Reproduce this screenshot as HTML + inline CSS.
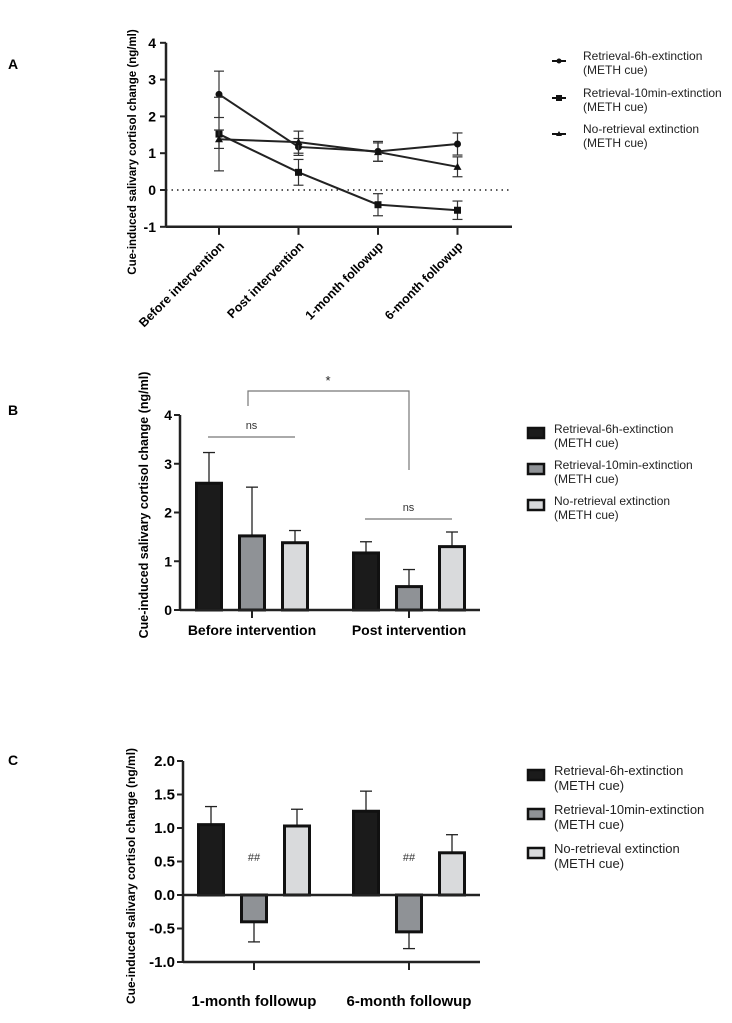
<!DOCTYPE html>
<html><head><meta charset="utf-8"><style>
body{margin:0;background:#fff;width:732px;height:1018px;overflow:hidden}
svg text{font-family:"Liberation Sans",Arial,sans-serif}
</style></head><body>
<svg id="s" width="732" height="1018" viewBox="0 0 732 1018">
<g id="A"></g>
<g id="B"></g>
<g id="C"></g>
</svg>
<script>
const NS="http://www.w3.org/2000/svg";
// Panel A data
const aCategories=["Before intervention","Post intervention","1-month followup","6-month followup"];
const aSeriesNames=["Retrieval-6h-extinction","Retrieval-10min-extinction","No-retrieval extinction"];
const aMean6h=[2.6,1.17,1.05,1.25];
const aErr6h=[0.63,0.23,0.27,0.3];
const aMean10=[1.52,0.48,-0.4,-0.55];
const aErr10=[1.0,0.35,0.3,0.25];
const aMeanNo=[1.38,1.3,1.03,0.63];
const aErrNo=[0.25,0.3,0.25,0.27];
const aTicks=[-1,0,1,2,3,4];
// Panel B data
const bCategories=["Before intervention","Post intervention"];
const bMean6h=[2.6,1.17];
const bErr6h=[0.63,0.23];
const bMean10=[1.52,0.48];
const bErr10=[1.0,0.35];
const bMeanNo=[1.38,1.3];
const bErrNo=[0.25,0.3];
const bTicks=[0,1,2,3,4];
// Panel C data
const cCategories=["1-month followup","6-month followup"];
const cMean6h=[1.05,1.25];
const cErr6h=[0.27,0.3];
const cMean10=[-0.4,-0.55];
const cErr10=[0.3,0.25];
const cMeanNo=[1.03,0.63];
const cErrNo=[0.25,0.27];
const cTicks=["-1.0","-0.5","0.0","0.5","1.0","1.5","2.0"];

function el(p,t,a,txt){const e=document.createElementNS(NS,t);for(const k in a)e.setAttribute(k,a[k]);if(txt!==undefined)e.textContent=txt;p.appendChild(e);return e;}
const colors=["#1b1b1b","#8f9296","#d9dadc"];
const yTitle="Cue-induced salivary cortisol change (ng/ml)";

// ---------- Panel A ----------
(function(){
const g=document.getElementById('A');
const y=v=>190-v*36.8;
const x=i=>219+i*79.5;
let t=el(g,'text',{x:8,y:69,'font-size':14,'font-weight':'bold'},'A');


t=el(g,'text',{x:0,y:0,'font-size':11.5,'font-weight':'bold','text-anchor':'middle',transform:'translate(136,152) rotate(-90)'},yTitle);


el(g,'line',{x1:166,y1:y(4),x2:166,y2:y(-1),stroke:'#222','stroke-width':2.5});
el(g,'line',{x1:166,y1:y(-1),x2:512,y2:y(-1),stroke:'#222','stroke-width':2.5});
el(g,'line',{x1:166,y1:y(0),x2:512,y2:y(0),stroke:'#222','stroke-width':1.5,'stroke-dasharray':'1.5 4'});
aTicks.forEach(v=>{el(g,'line',{x1:160,y1:y(v),x2:166,y2:y(v),stroke:'#222','stroke-width':2});
 const tt=el(g,'text',{x:156,y:y(v)+5,'font-size':14,'font-weight':'bold','text-anchor':'end'},v);
 
 });
aCategories.forEach((c,i)=>{el(g,'line',{x1:x(i),y1:y(-1),x2:x(i),y2:y(-1)+8,stroke:'#222','stroke-width':2});
 const tt=el(g,'text',{x:0,y:0,'font-size':12.5,'font-weight':'bold','text-anchor':'end',transform:`translate(${x(i)+6},${y(-1)+20}) rotate(-45)`},c);
 
 });
const series=[[aMean6h,aErr6h,'circle'],[aMean10,aErr10,'square'],[aMeanNo,aErrNo,'triangle']];
series.forEach(([m,e,mk],si)=>{
 const sg=el(g,'g',{});
 
 
 el(sg,'polyline',{points:m.map((v,i)=>x(i)+','+y(v)).join(' '),fill:'none',stroke:'#222','stroke-width':2});
 m.forEach((v,i)=>{const X=x(i);
  el(sg,'line',{x1:X,y1:y(v-e[i]),x2:X,y2:y(v+e[i]),stroke:'#333','stroke-width':1.2});
  [v-e[i],v+e[i]].forEach(w=>el(sg,'line',{x1:X-5,y1:y(w),x2:X+5,y2:y(w),stroke:'#333','stroke-width':1.2}));
  let p;
  if(mk==='circle')p=el(sg,'circle',{cx:X,cy:y(v),r:3.5,fill:'#111'});
  else if(mk==='square')p=el(sg,'rect',{x:X-3.5,y:y(v)-3.5,width:7,height:7,fill:'#111'});
  else p=el(sg,'polygon',{points:`${X},${y(v)-4} ${X-4},${y(v)+3} ${X+4},${y(v)+3}`,fill:'#111'});
  
  
 });
});
const ly=[61,98,134];
aSeriesNames.forEach((n,i)=>{const lg=el(g,'g',{});
 
 
 el(lg,'line',{x1:552,y1:ly[i],x2:566,y2:ly[i],stroke:'#111','stroke-width':2});
 if(i===0)el(lg,'circle',{cx:559,cy:ly[i],r:2.5,fill:'#111'});
 else if(i===1)el(lg,'rect',{x:556,y:ly[i]-3,width:6,height:6,fill:'#111'});
 else el(lg,'polygon',{points:`559,${ly[i]-3} 556,${ly[i]+2} 562,${ly[i]+2}`,fill:'#111'});
 el(lg,'text',{x:583,y:ly[i]-1,'font-size':12,fill:'#222'},n);
 el(lg,'text',{x:583,y:ly[i]+13,'font-size':12,fill:'#222'},'(METH cue)');
});
})();

function barPanel(id,label,labelY,cats,means,errs,yf,ticks,tickVals,axisX,axisTop,axisBot,zeroY,gx,xlabY,titleX,titleY,titleFs,legX,legY,legFs,fs){
 const g=document.getElementById(id);
 let t=el(g,'text',{x:8,y:labelY,'font-size':14,'font-weight':'bold'},label);
 
 
 t=el(g,'text',{x:0,y:0,'font-size':titleFs,'font-weight':'bold','text-anchor':'middle',transform:`translate(${titleX},${titleY}) rotate(-90)`},yTitle);
 
 
 el(g,'line',{x1:axisX,y1:axisTop,x2:axisX,y2:axisBot,stroke:'#222','stroke-width':2.5});
 ticks.forEach((lab,i)=>{const v=tickVals[i];el(g,'line',{x1:axisX-6,y1:yf(v),x2:axisX,y2:yf(v),stroke:'#222','stroke-width':2});
  const tt=el(g,'text',{x:axisX-8,y:yf(v)+5,'font-size':fs,'font-weight':'bold','text-anchor':'end'},lab);
  
  });
 cats.forEach((c,ci)=>{
  const cx=gx(ci);
  means.forEach((m,si)=>{const bx=cx-57+si*43;const v=m[ci],e=errs[si][ci];
   const top=Math.min(yf(v),zeroY),h=Math.abs(yf(v)-zeroY);
   const ew=v>=0?v+e:v-e;
   el(g,'line',{x1:bx+14,y1:yf(v),x2:bx+14,y2:yf(ew),stroke:'#222','stroke-width':1.3});
   el(g,'line',{x1:bx+8,y1:yf(ew),x2:bx+20,y2:yf(ew),stroke:'#222','stroke-width':1.3});
   const r=el(g,'rect',{x:bx+1.5,y:top,width:25,height:h,fill:colors[si],stroke:'#111','stroke-width':3});
   
   
  });
  el(g,'line',{x1:cx,y1:axisBot,x2:cx,y2:axisBot+8,stroke:'#222','stroke-width':2});
  const tt=el(g,'text',{x:cx,y:xlabY,'font-size':fs,'font-weight':'bold','text-anchor':'middle'},c);
  
  
 });
 el(g,'line',{x1:axisX,y1:zeroY,x2:480,y2:zeroY,stroke:'#222','stroke-width':2.5});
 aSeriesNames.forEach((n,i)=>{const lg=el(g,'g',{});
  
  
  const yy=legY+i*(legFs*3);
  el(lg,'rect',{x:legX,y:yy-5,width:16,height:10,fill:colors[i],stroke:'#111','stroke-width':2.5});
  el(lg,'text',{x:legX+26,y:yy,'font-size':legFs,fill:'#222'},n);
  el(lg,'text',{x:legX+26,y:yy+legFs+2,'font-size':legFs,fill:'#222'},'(METH cue)');
 });
 return g;
}

// ---------- Panel B ----------
(function(){
const yf=v=>610-v*48.75;
const gx=i=>252+i*157;
const g=barPanel('B','B',415,bCategories,[bMean6h,bMean10,bMeanNo],[bErr6h,bErr10,bErrNo],yf,bTicks.map(String),bTicks,180,yf(4),610,610,gx,635,148,505,12.5,528,433,12,14);
const br=(x1,x2,yy,txt,id)=>{const bg=el(g,'g',{});
 
 
 el(bg,'line',{x1,y1:yy,x2,y2:yy,stroke:'#777','stroke-width':1.2});
 el(bg,'text',{x:(x1+x2)/2,y:yy-8,'font-size':11,'text-anchor':'middle',fill:'#333'},txt);};
br(208,295,437,'ns','ns-bracket-before');
br(365,452,519,'ns','ns-bracket-post');
const sg=el(g,'g',{});


el(sg,'polyline',{points:'248,406 248,391 409,391 409,470',fill:'none',stroke:'#777','stroke-width':1.2});
el(sg,'text',{x:328,y:385,'font-size':13,'text-anchor':'middle',fill:'#222'},'*');
})();

// ---------- Panel C ----------
(function(){
const yf=v=>895-v*67;
const gx=i=>254+i*155;
const tv=cTicks.map(Number);
const g=barPanel('C','C',765,cCategories,[cMean6h,cMean10,cMeanNo],[cErr6h,cErr10,cErrNo],yf,cTicks,tv,183,yf(2),yf(-1),yf(0),gx,1006,135,876,12,528,775,13,15);
el(g,'line',{x1:183,y1:yf(-1),x2:480,y2:yf(-1),stroke:'#222','stroke-width':2.5});
[0,1].forEach(i=>{el(g,'line',{x1:gx(i),y1:yf(-1),x2:gx(i),y2:yf(-1)+8,stroke:'#222','stroke-width':2});
 const h=el(g,'text',{x:gx(i),y:861,'font-size':11,'text-anchor':'middle',fill:'#333'},'##');
 
 });
})();
</script>
</body></html>
